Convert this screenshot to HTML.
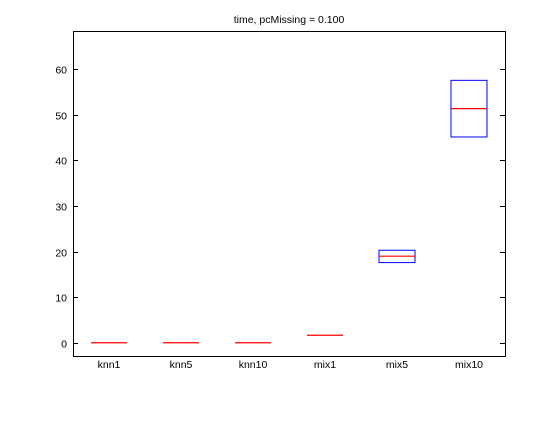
<!DOCTYPE html>
<html><head><meta charset="utf-8"><style>
body{margin:0;background:#fff;width:559px;height:419px;overflow:hidden}
text{font-family:"Liberation Sans",sans-serif;font-size:10.5px;fill:#000}
</style></head><body>
<svg id="chart" width="559" height="419" viewBox="0 0 559 419"></svg>
<script>
const categories=["knn1","knn5","knn10","mix1","mix5","mix10"];
const q1Values=[0.05,0.05,0.05,1.7,17.6,45.1];
const medianValues=[0.05,0.05,0.05,1.7,19.0,51.3];
const q3Values=[0.05,0.05,0.05,1.7,20.3,57.5];
const yTicks=[0,10,20,30,40,50,60];
const titleText="time, pcMissing = 0.100";

const L=73,R=505,T=31,B=356,yMin=-2.85,yMax=68.3;
const x=i=>L+(i+0.5)*(R-L)/categories.length;
const y=v=>B-(v-yMin)/(yMax-yMin)*(B-T);
const NS="http://www.w3.org/2000/svg";
const svg=document.getElementById('chart');
function mk(tag,attrs,parent){const e=document.createElementNS(NS,tag);for(const k in attrs)e.setAttribute(k,attrs[k]);(parent||svg).appendChild(e);return e;}

const axes=mk('rect',{x:L+0.5,y:T+0.5,width:R-L,height:B-T,fill:'none',stroke:'#000','stroke-width':1});



const title=mk('text',{x:(L+R)/2,y:23,'text-anchor':'middle'});
title.textContent=titleText;



yTicks.forEach(t=>{
  const yy=Math.round(y(t))+0.5;
  const tl=mk('line',{x1:L,x2:L+5,y1:yy,y2:yy,stroke:'#000'});
  
  
  const tr=mk('line',{x1:R-5,x2:R,y1:yy,y2:yy,stroke:'#000'});
  
  
  const lb=mk('text',{x:L-6,y:yy+4,'text-anchor':'end'});
  lb.textContent=t;
  
  
});

categories.forEach((c,i)=>{
  const cx=x(i),hw=18;
  const lb=mk('text',{x:cx,y:B+12,'text-anchor':'middle'});
  lb.textContent=c;
  
  
  if(q3Values[i]-q1Values[i]>0.2){
    const bx=mk('rect',{x:cx-hw,y:y(q3Values[i]),width:2*hw,height:y(q1Values[i])-y(q3Values[i]),fill:'none',stroke:'#0000ff','stroke-width':1});
    
    
  }
  const md=mk('line',{x1:cx-hw,x2:cx+hw,y1:y(medianValues[i]),y2:y(medianValues[i]),stroke:'#ff0000','stroke-width':1.2});
  
  
});
</script>
</body></html>
